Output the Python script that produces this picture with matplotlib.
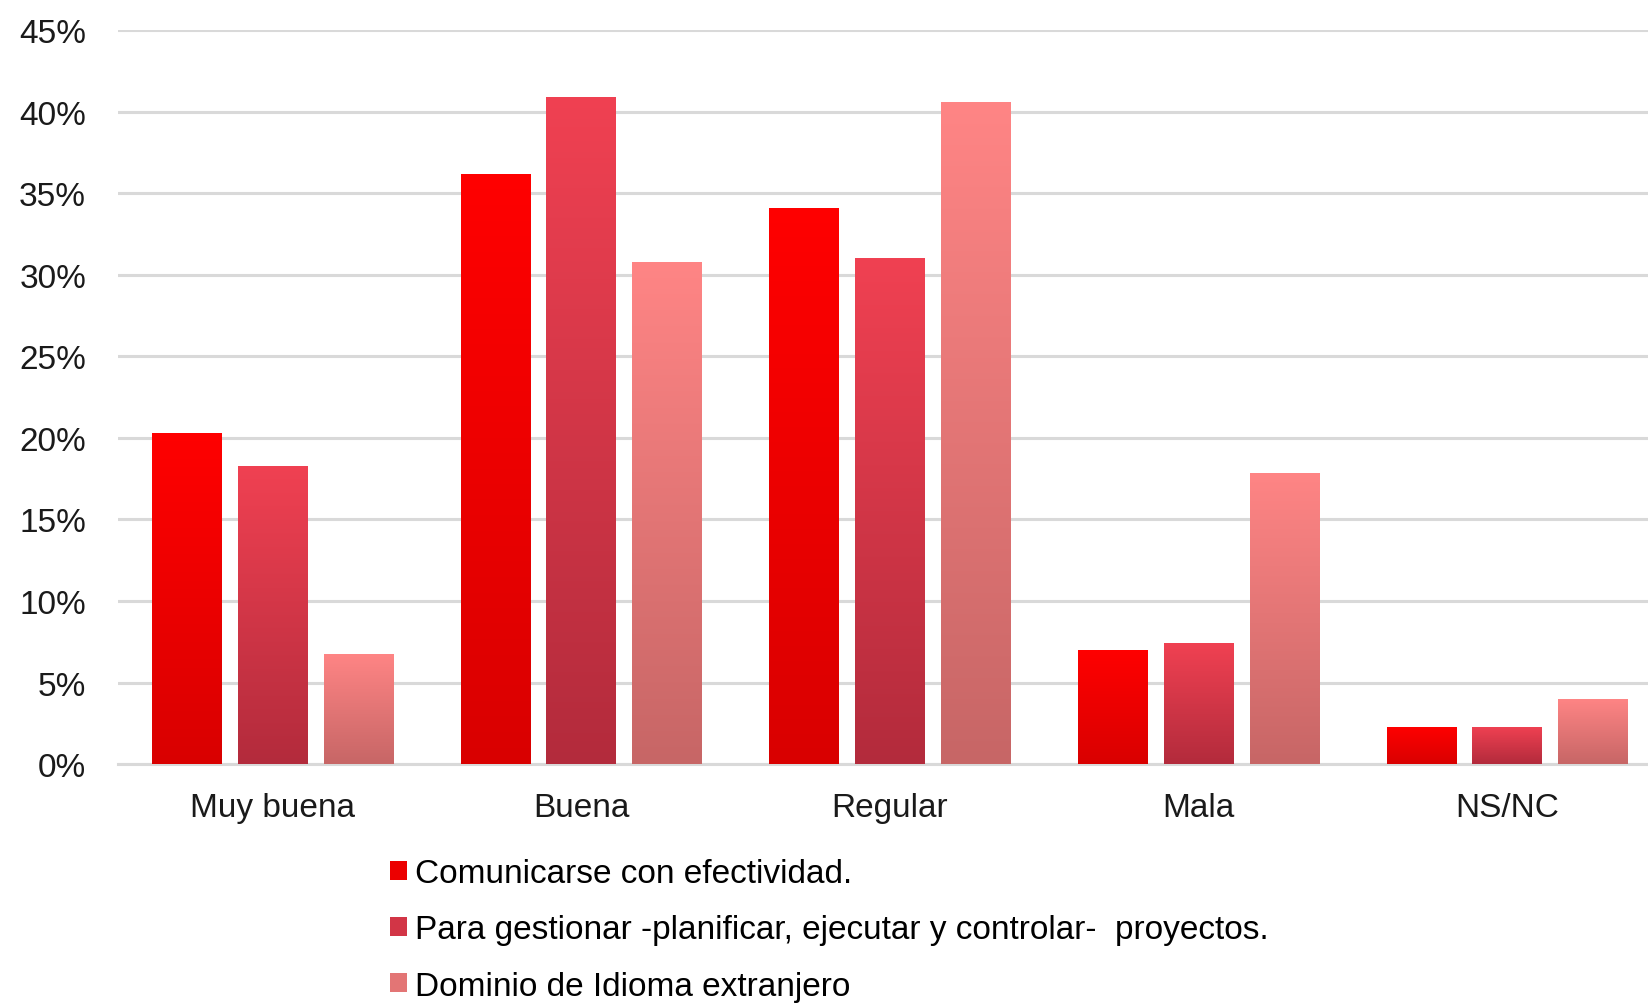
import numpy as np
import matplotlib
matplotlib.use("Agg")
import matplotlib.pyplot as plt
from matplotlib.patches import Patch
from matplotlib.colors import LinearSegmentedColormap

plt.rcParams['font.family'] = ['Liberation Sans', 'DejaVu Sans']

categories = ["Muy buena", "Buena", "Regular", "Mala", "NS/NC"]
series_names = [
    "Comunicarse con efectividad.",
    "Para gestionar -planificar, ejecutar y controlar-  proyectos.",
    "Dominio de Idioma extranjero",
]
comunicarse = [20.3, 36.2, 34.1, 7.0, 2.3]
gestionar = [18.3, 40.9, 31.0, 7.4, 2.3]
idioma = [6.75, 30.8, 40.6, 17.85, 4.0]
yticks = [0, 5, 10, 15, 20, 25, 30, 35, 40, 45]
ytick_labels = ["0%", "5%", "10%", "15%", "20%", "25%", "30%", "35%", "40%", "45%"]

top_colors = ["#FF0000", "#F04152", "#FF8585"]
bot_colors = ["#D90000", "#B32B3C", "#C76666"]
mid_colors = ["#EC0000", "#D23546", "#E37575"]

FS = 24

fig = plt.figure(figsize=(16.49, 10.04), dpi=100)
ax = fig.add_axes([0.0716, 0.238, 0.936, 0.731])

x = np.arange(len(categories))
offsets = [-0.278, 0.0, 0.278]
width = 0.225
all_series = [comunicarse, gestionar, idioma]

ax.set_ylim(0, 45)
ax.set_xlim(-0.5, 4.5)

for i, vals in enumerate(all_series):
    bars = ax.bar(x + offsets[i], vals, width, color=mid_colors[i], zorder=3,
                  edgecolor='none')
    cmap = LinearSegmentedColormap.from_list(f"g{i}", [bot_colors[i], top_colors[i]])
    grad = np.linspace(0, 1, 256).reshape(-1, 1)
    for b in bars:
        bx, by = b.get_x(), b.get_y()
        bw, bh = b.get_width(), b.get_height()
        im = ax.imshow(grad, cmap=cmap, aspect='auto', origin='lower',
                       extent=[bx, bx + bw, by, by + bh], zorder=4)
        im.set_clip_path(b)

ax.set_yticks(yticks)
ax.set_yticklabels(ytick_labels)
ax.set_xticks(x)
ax.set_xticklabels(categories)
ax.yaxis.grid(True, color="#D9D9D9", linewidth=2.2, zorder=0)
ax.set_axisbelow(True)
for s in ["top", "right", "left"]:
    ax.spines[s].set_visible(False)
ax.spines["bottom"].set_color("#D9D9D9")
ax.spines["bottom"].set_linewidth(2.2)
ax.tick_params(axis='both', length=0, labelsize=FS, colors="#1a1a1a")
ax.tick_params(axis='y', pad=23)
ax.tick_params(axis='x', pad=20)
ax.set_ylim(0, 45)
ax.set_xlim(-0.5, 4.5)

handles = [Patch(facecolor=mid_colors[i], edgecolor='none') for i in range(3)]
fig.legend(handles, series_names, loc="upper left",
           bbox_to_anchor=(0.2365, 0.1444), frameon=False, fontsize=FS,
           handlelength=0.5, handleheight=0.5, handletextpad=0.25,
           labelspacing=0.76, borderaxespad=0, borderpad=0)

fig.savefig("out.png", dpi=100, facecolor="white")
